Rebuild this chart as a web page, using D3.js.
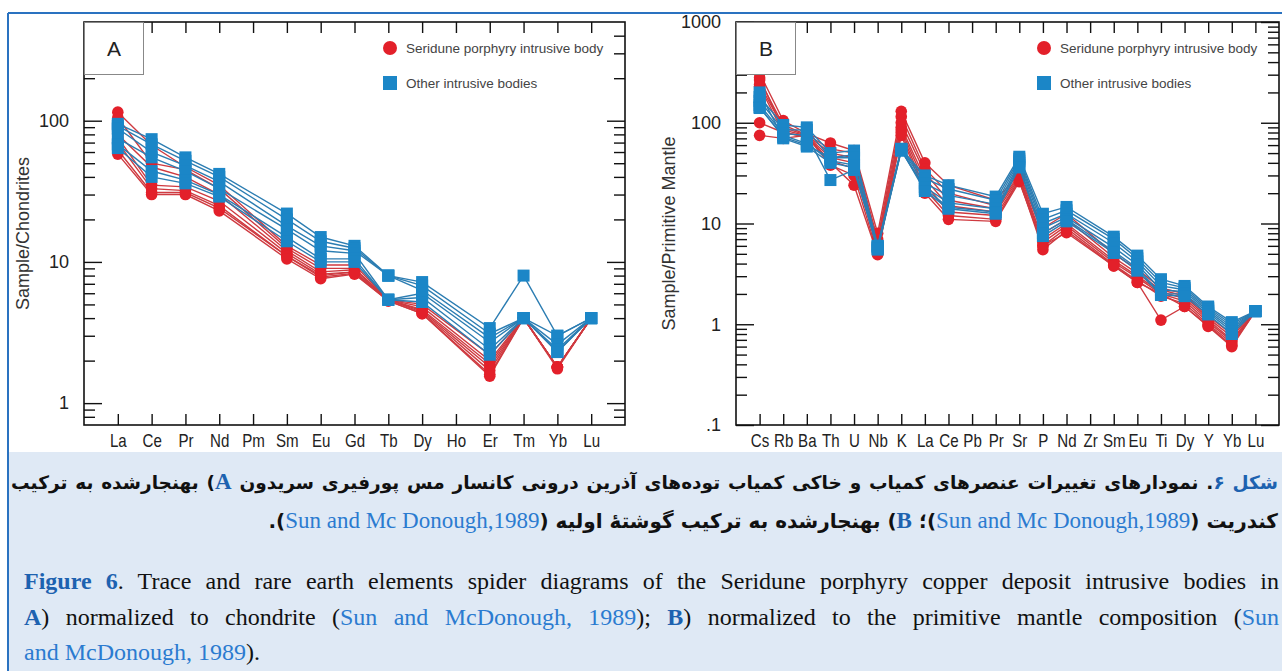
<!DOCTYPE html>
<html>
<head>
<meta charset="utf-8">
<script src="https://cdn.jsdelivr.net/npm/d3@7"></script>
<style>
body { margin: 0; background: #fff; }
#wrap { position: relative; width: 1282px; height: 671px; overflow: hidden; }
#chart { position: absolute; left: 0; top: 0; }
#caption { position: absolute; left: 9px; top: 452px; width: 1273px; height: 219px; background: #dfe9f5; }
.line { position: absolute; white-space: nowrap; }
.fa { font-family: "DejaVu Sans", sans-serif; font-weight: bold; font-size: 20px; color: #111; line-height: 38px; left: 2px; width: 1267px; }
.en { font-family: "Liberation Serif", "Times New Roman", serif; font-size: 24px; color: #111; line-height: 36px; left: 15px; width: 1255px; }
.just { text-align: justify; text-align-last: justify; }
.blue { color: #1d62b0; font-weight: bold; }
.cite { color: #2b7bd0; font-weight: normal; font-family: "Liberation Serif", "Times New Roman", serif; }
.fa .cite, .fa .latin { font-size: 23px; }
.latin { font-family: "Liberation Serif", "Times New Roman", serif; }
</style>
</head>
<body>
<div id="wrap">
<svg id="chart" width="1282" height="671"></svg>
<div id="caption">
  <div class="line fa just" dir="rtl" style="top:11px"><span class="blue">شکل ۶</span>. نمودارهای تغییرات عنصرهای کمیاب و خاکی کمیاب توده‌های آذرین درونی کانسار مس پورفیری سریدون <span class="blue latin">A</span>) بهنجارشده به ترکیب</div>
  <div class="line fa" dir="rtl" style="top:50px">کندریت (<span class="cite">Sun and Mc Donough,1989</span>)؛ <span class="blue latin">B</span>) بهنجارشده به ترکیب گوشتهٔ اولیه (<span class="cite">Sun and Mc Donough,1989</span>).</div>
  <div class="line en just" style="top:111px"><span class="blue">Figure 6</span>. Trace and rare earth elements spider diagrams of the Seridune porphyry copper deposit intrusive bodies in</div>
  <div class="line en just" style="top:147px"><span class="blue">A</span>) normalized to chondrite (<span class="cite">Sun and McDonough, 1989</span>); <span class="blue">B</span>) normalized to the primitive mantle composition (<span class="cite">Sun</span></div>
  <div class="line en" style="top:182px"><span class="cite">and McDonough, 1989</span>).</div>
</div>
</div>
<script>
// panel A: chondrite-normalized REE
const reeElements = ['La', 'Ce', 'Pr', 'Nd', 'Pm', 'Sm', 'Eu', 'Gd', 'Tb', 'Dy', 'Ho', 'Er', 'Tm', 'Yb', 'Lu'];
const reeSeridune = [
    [115, 67, 47, 35, null, 13, 9.5, 9.5, 5.4, 5.0, null, 2.2, 4, 1.8, 4],
    [105, 50, 45, 33, null, 12.5, 9, 9, 5.4, 4.8, null, 2.0, 4, 1.8, 4],
    [80, 47, 40, 30, null, 12, 8.5, 8.8, 5.4, 4.6, null, 1.9, 4, 1.8, 4],
    [76, 35, 34, 27, null, 11.5, 8.2, 8.5, 5.4, 4.5, null, 1.8, 4, 1.8, 4],
    [70, 33, 32, 25, null, 11, 8, 8.5, 5.4, 4.4, null, 1.7, 4, 1.8, 4],
    [62, 31, 31, 24, null, 11, 7.8, 8.3, 5.3, 4.3, null, 1.6, 4, 1.8, 4],
    [58, 30, 30, 23, null, 10.5, 7.6, 8.2, 5.3, 4.3, null, 1.55, 4, 1.75, 4]
];
const reeOther = [
    [95, 74, 55, 42, null, 22, 15, 13, 8, 7.2, null, 3.4, 8, 3.0, 4],
    [92, 68, 52, 40, null, 20, 14, 12.5, 8, 6.8, null, 3.1, 4, 3.0, 4],
    [88, 60, 48, 37, null, 18, 13, 12, 8, 6.3, null, 2.9, 4, 2.6, 4],
    [75, 55, 44, 33, null, 17, 12, 11.5, 5.4, 6.0, null, 2.7, 4, 2.4, 4],
    [68, 44, 38, 30, null, 15, 10.5, 10.5, 5.4, 5.6, null, 2.4, 4, 2.3, 4],
    [64, 40, 36, 29, null, 14, 10, 10, 5.4, 5.2, null, 2.2, 4, 2.3, 4]
];
const reeMajor = [1, 10, 100];
const reeMajorLabels = ['1', '10', '100'];
const reeMinor = [0.8, 0.9, 2, 3, 4, 5, 6, 7, 8, 9, 20, 30, 40, 50, 60, 70, 80, 90, 200, 300, 400];

// panel B: primitive-mantle-normalized trace elements
const traceElements = ['Cs', 'Rb', 'Ba', 'Th', 'U', 'Nb', 'K', 'La', 'Ce', 'Pb', 'Pr', 'Sr', 'P', 'Nd', 'Zr', 'Sm', 'Eu', 'Ti', 'Dy', 'Y', 'Yb', 'Lu'];
const traceSeridune = [
    [310, 105, 78, 63, 53, 8.0, 130, 40, 24, null, 17, 31, 9, 12.5, null, 5.0, 3.5, 2.3, 2.0, 1.2, 0.8, 1.35],
    [265, 95, 76, 55, 50, 7.0, 115, 35, 20, null, 15, 30, 8, 11, null, 4.6, 3.2, 2.2, 1.9, 1.15, 0.75, 1.35],
    [240, 90, 75, 50, 45, 6.5, 100, 32, 17, null, 14, 29, 7, 10, null, 4.3, 3.0, 2.1, 1.8, 1.1, 0.7, 1.35],
    [280, 85, 74, 45, 40, 6.0, 90, 28, 15, null, 13, 28, 6.5, 9.5, null, 4.1, 2.9, 2.0, 1.7, 1.05, 0.68, 1.35],
    [230, 80, 72, 42, 35, 5.5, 85, 25, 13, null, 12, 27, 6, 9, null, 3.9, 2.7, 1.9, 1.6, 1.0, 0.65, 1.35],
    [100, 80, 73, 38, 30, 5.0, 80, 22, 12, null, 11, 27, 5.5, 8.5, null, 3.8, 2.6, 1.1, 1.5, 0.97, 0.62, 1.35],
    [75, 70, 75, 40, 24, 4.9, 75, 20, 11, null, 10.5, 26, 6, 8.1, null, 3.8, 2.6, 2.0, 1.5, 0.95, 0.6, 1.35]
];
const traceOther = [
    [180, 95, 90, 50, 53, 6.0, 55, 30, 24, null, 18.5, 46, 12.5, 14.6, null, 7.4, 4.8, 2.8, 2.4, 1.5, 1.05, 1.35],
    [165, 85, 85, 45, 48, 6.0, 55, 28, 22, null, 17, 44, 11, 13.5, null, 7.0, 4.5, 2.6, 2.3, 1.45, 1.0, 1.35],
    [150, 78, 75, 27, 34, 5.8, 55, 25, 19, null, 15.5, 42, 10, 12.5, null, 6.4, 4.2, 2.4, 2.2, 1.4, 0.95, 1.35],
    [143, 72, 60, 45, 45, 5.8, 53, 23, 16, null, 14, 40, 9, 11.5, null, 5.8, 3.9, 2.2, 2.1, 1.35, 0.9, 1.35],
    [200, 70, 58, 40, 36, 5.5, 53, 22, 14.5, null, 13, 38, 8, 11, null, 5.3, 3.6, 2.0, 2.0, 1.3, 0.85, 1.35],
    [140, 75, 62, 42, 38, 5.6, 54, 21, 14, null, 12.5, 36, 7.5, 10.5, null, 5.1, 3.4, 1.95, 1.9, 1.25, 0.8, 1.35]
];
const traceMajor = [0.1, 1, 10, 100, 1000];
const traceMajorLabels = ['.1', '1', '10', '100', '1000'];
const traceMinor = [];
[0.1, 1, 10, 100].forEach(base => [2, 3, 4, 5, 6, 7, 8, 9].forEach(m => traceMinor.push(base * m)));

const legendLabels = ['Seridune porphyry intrusive body', 'Other intrusive bodies'];

const RED = '#e3202a', RED_LINE = '#cf3a40';
const BLUE = '#1b86c7', BLUE_LINE = '#2c7db2';

const svg = d3.select('#chart');

// outer blue border
svg.append('line').attr('x1', 8).attr('x2', 1282).attr('y1', 13).attr('y2', 13)
    .attr('stroke', '#2a72c0').attr('stroke-width', 2);
svg.append('line').attr('x1', 8).attr('x2', 8).attr('y1', 13).attr('y2', 671)
    .attr('stroke', '#2a72c0').attr('stroke-width', 2);

drawPanel({
    left: 84, top: 22, right: 625, bottom: 425,
    elements: reeElements, domain: [0.7, 500],
    major: reeMajor, majorLabels: reeMajorLabels, minor: reeMinor,
    red: reeSeridune, blue: reeOther,
    letter: 'A', title: 'Sample/Chondrites', titleX: 29, legendX: 390
});
drawPanel({
    left: 736, top: 22, right: 1279, bottom: 425,
    elements: traceElements, domain: [0.1, 1000],
    major: traceMajor, majorLabels: traceMajorLabels, minor: traceMinor,
    red: traceSeridune, blue: traceOther,
    letter: 'B', title: 'Sample/Primitive Mantle', titleX: 675, legendX: 1044
});

function drawPanel(c) {
    const n = c.elements.length;
    const x = d3.scaleLinear().domain([0, n + 1]).range([c.left, c.right]);
    const y = d3.scaleLog().domain(c.domain).range([c.bottom, c.top]);
    const g = svg.append('g');
    const idx = d3.range(1, n + 1);

    const styleAxis = sel => {
        sel.select('.domain').remove();
        sel.selectAll('line').attr('stroke', '#111').attr('stroke-width', 1.4);
        sel.selectAll('text').attr('fill', '#222');
    };

    // element labels are narrow in the original, squeeze them horizontally
    g.append('g').attr('transform', `translate(0,${c.bottom})`)
        .call(d3.axisBottom(x).tickValues(idx).tickSize(-11).tickPadding(9).tickFormat(i => c.elements[i - 1]))
        .call(styleAxis)
        .selectAll('text')
        .attr('font-family', '"Liberation Sans", Arial, sans-serif')
        .attr('font-size', 18)
        .attr('transform', 'scale(0.84,1)');
    g.append('g').attr('transform', `translate(0,${c.top})`)
        .call(d3.axisTop(x).tickValues(idx).tickSize(-11).tickFormat(''))
        .call(styleAxis);

    g.append('g').attr('transform', `translate(${c.left},0)`)
        .call(d3.axisLeft(y).tickValues(c.major).tickSize(-18).tickPadding(15).tickFormat((d, i) => c.majorLabels[i]))
        .call(styleAxis)
        .selectAll('text')
        .attr('font-family', '"Liberation Sans", Arial, sans-serif')
        .attr('font-size', 18);
    g.append('g').attr('transform', `translate(${c.left},0)`)
        .call(d3.axisLeft(y).tickValues(c.minor).tickSize(-11).tickFormat(''))
        .call(styleAxis);
    g.append('g').attr('transform', `translate(${c.right},0)`)
        .call(d3.axisRight(y).tickValues(c.major).tickSize(-18).tickFormat(''))
        .call(styleAxis);
    g.append('g').attr('transform', `translate(${c.right},0)`)
        .call(d3.axisRight(y).tickValues(c.minor).tickSize(-11).tickFormat(''))
        .call(styleAxis);

    // y title
    g.append('text')
        .attr('transform', `translate(${c.titleX},${(c.top + c.bottom) / 2 + 10}) rotate(-90)`)
        .attr('text-anchor', 'middle')
        .attr('font-family', '"Liberation Sans", Arial, sans-serif')
        .attr('font-size', 18)
        .attr('fill', '#333')
        .text(c.title);

    const line = d3.line().x(d => x(d.i)).y(d => y(d.v));
    const pts = row => row.map((v, k) => ({ i: k + 1, v })).filter(d => d.v != null);

    const drawGroup = (rows, color, lineColor, shape) => {
        const sg = g.append('g');
        rows.forEach(row => {
            sg.append('path').datum(pts(row)).attr('d', line)
                .attr('fill', 'none').attr('stroke', lineColor).attr('stroke-width', 1.4);
        });
        rows.forEach(row => {
            const m = sg.append('g').selectAll('.m').data(pts(row)).enter();
            if (shape === 'circle') {
                m.append('circle').attr('cx', d => x(d.i)).attr('cy', d => y(d.v)).attr('r', 5.8).attr('fill', color);
            } else {
                m.append('rect').attr('x', d => x(d.i) - 6).attr('y', d => y(d.v) - 6)
                    .attr('width', 12).attr('height', 12).attr('fill', color);
            }
        });
    };
    drawGroup(c.red, RED, RED_LINE, 'circle');
    drawGroup(c.blue, BLUE, BLUE_LINE, 'square');

    // frame
    g.append('rect').attr('x', c.left).attr('y', c.top)
        .attr('width', c.right - c.left).attr('height', c.bottom - c.top)
        .attr('fill', 'none').attr('stroke', '#111').attr('stroke-width', 1.6);

    // letter box
    g.append('rect').attr('x', c.left + 0.5).attr('y', c.top + 0.5).attr('width', 59).attr('height', 52)
        .attr('fill', '#fff').attr('stroke', '#888').attr('stroke-width', 1);
    g.append('text').attr('x', c.left + 30).attr('y', c.top + 34)
        .attr('text-anchor', 'middle')
        .attr('font-family', '"Liberation Sans", Arial, sans-serif')
        .attr('font-size', 21).attr('fill', '#222').text(c.letter);

    // legend
    const lg = g.append('g').attr('font-family', '"Liberation Sans", Arial, sans-serif')
        .attr('font-size', 13.5).attr('fill', '#444');
    lg.append('circle').attr('cx', c.legendX).attr('cy', c.top + 26).attr('r', 7).attr('fill', RED);
    lg.append('text').attr('x', c.legendX + 16).attr('y', c.top + 31).text(legendLabels[0]);
    lg.append('rect').attr('x', c.legendX - 7).attr('y', c.top + 54).attr('width', 14).attr('height', 14).attr('fill', BLUE);
    lg.append('text').attr('x', c.legendX + 16).attr('y', c.top + 66).text(legendLabels[1]);
}

// shrink caption lines that would overflow
document.querySelectorAll('.line').forEach(el => {
    let fs = parseFloat(getComputedStyle(el).fontSize);
    while (el.scrollWidth > el.clientWidth + 1 && fs > 10) {
        fs -= 0.5;
        el.style.fontSize = fs + 'px';
    }
});
</script>
</body>
</html>
